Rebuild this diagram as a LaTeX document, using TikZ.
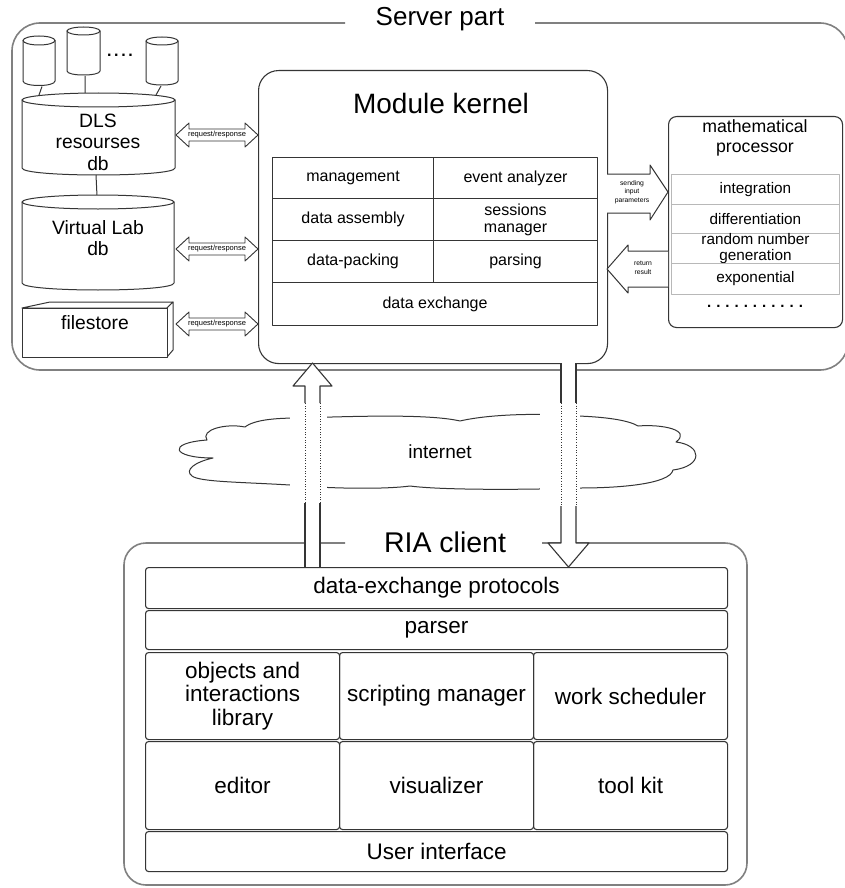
\documentclass[tikz,border=0pt]{standalone}
\usepackage{fontspec}
\setmainfont{Liberation Sans}
\definecolor{framec}{HTML}{808080}
\definecolor{inkc}{HTML}{353535}
\definecolor{lightc}{HTML}{B8B8B8}
\newcommand\fs[2]{\fontsize{#1}{#2}\selectfont}
\newcommand\drawcyl[5]{%
  \filldraw[fill=white, draw=inkc, line width=1pt] (#1,#3) -- (#1,#4) .. controls (#1,{#4+1.333*#5}) and (#2,{#4+1.333*#5}) .. (#2,#4) -- (#2,#3) -- cycle;
  \filldraw[fill=white, draw=inkc, line width=1pt] ({(#1+#2)/2},#3) ellipse [x radius={(#2-#1)/2}, y radius=#5];}
\newcommand\reqresp[2]{%
  \filldraw[fill=white, draw=inkc, line width=0.9pt] (176,#1) -- (189,{#1-12}) -- (189,{#1-6}) -- (245,{#1-6}) -- (245,{#1-12}) -- (258,#1) -- (245,{#1+12}) -- (245,{#1+6}) -- (189,{#1+6}) -- (189,{#1+12}) -- cycle;
  \node[inner sep=0, font=\fs{7.5}{8}] (#2) at (217,#1) {request/response};}
\begin{document}
\begin{tikzpicture}[x=1pt, y=-1pt, line join=round,
  frameline/.style={draw=framec, line width=1.6pt},
  inkline/.style={draw=inkc, line width=1.1pt},
  cell/.style={draw=inkc, line width=1.1pt, inner sep=0, anchor=north west, align=center, font=\fs{16}{17}},
  mrow/.style={draw=lightc, line width=0.9pt, inner sep=0, anchor=north west, align=center, font=\fs{15.3}{16}},
  crow/.style={draw=inkc, line width=1.1pt, rounded corners=3, inner sep=0, anchor=north west, align=center, font=\fs{22.5}{23.5}},
  dotline/.style={draw=inkc, line width=1pt, dash pattern=on 1pt off 1.6pt}]
\useasboundingbox (0,0) rectangle (844,888);
\fill[white] (0,0) rectangle (844,888);

% ---------------- Server part frame
\draw[frameline, rounded corners=28] (345,23) -- (12,23) -- (12,370) -- (848,370) -- (848,23) -- (535,23);
\node[font=\fs{26}{28}, inner sep=0] (srvtitle) at (440,19) {Server part};

% ---------------- small databases
\drawcyl{23}{55}{40.5}{81}{4.5}
\drawcyl{67}{100}{31}{71}{4}
\drawcyl{146}{178}{41}{81}{4}
\node[inner sep=0] (sdb1) at (39,60) {};
\node[inner sep=0] (sdb2) at (83.5,51) {};
\node[inner sep=0] (sdb3) at (162,61) {};
\node[font=\fs{16}{16}\bfseries, inner sep=0] (sdots) at (120,55) {.\,.\,.\,.};
\coordinate (c1b) at (42,86.5);
\coordinate (c2b) at (85,76);
\coordinate (c3b) at (161,86);
\coordinate (d1t) at (39,95);
\coordinate (d2t) at (85,93.5);
\coordinate (d3t) at (156,95);
\draw[inkc, line width=1pt] (c1b) -- (d1t) (c2b) -- (d2t) (c3b) -- (d3t);

% ---------------- DLS resources db
\drawcyl{22}{175}{100}{168}{7}
\node[font=\fs{19.3}{21.5}, align=center, inner sep=0] (dls) at (98,142) {DLS\\resourses\\db};
\coordinate (dlsb) at (96,175);
\coordinate (vlt) at (97,196);
\draw[inkc, line width=1pt] (dlsb) -- (vlt);

% ---------------- Virtual Lab db
\drawcyl{22}{174}{202}{283}{7}
\node[font=\fs{19.3}{21.5}, align=center, inner sep=0] (vl) at (98,238) {Virtual Lab\\db};

% ---------------- filestore
\filldraw[fill=white, draw=inkc, line width=1pt] (22,308) -- (50,302) -- (173,302) -- (167,308) -- cycle;
\filldraw[fill=white, draw=inkc, line width=1pt] (167,308) -- (173,302) -- (173,350) -- (167,357) -- cycle;
\node[draw=inkc, line width=1pt, fill=white, minimum width=145pt, minimum height=49pt, anchor=north west, inner sep=0] (fsbox) at (22,308) {};
\node[font=\fs{19.3}{21}, inner sep=0] (fs) at (95,323) {filestore};

% ---------------- request/response arrows
\reqresp{135}{rr1}
\reqresp{249}{rr2}
\reqresp{324}{rr3}

% ---------------- internet cloud
\filldraw[fill=white, draw=inkc, line width=1pt]
  (245,427) .. controls (255,419) and (280,418) .. (300,418)
  .. controls (360,416) and (430,414) .. (460,421)
  .. controls (490,414) and (540,413) .. (578,416)
  .. controls (605,417) and (628,420) .. (638,426)
  .. controls (662,424) and (692,430) .. (676,442)
  .. controls (702,445) and (704,466) .. (673,470)
  .. controls (670,484) and (620,488) .. (580,488)
  .. controls (520,490) and (440,490) .. (410,486)
  .. controls (380,490) and (320,488) .. (290,485)
  .. controls (240,482) and (200,482) .. (192,476)
  .. controls (184,470) and (195,462) .. (213,458)
  .. controls (172,458) and (166,443) .. (207,440)
  .. controls (200,430) and (225,423) .. (245,427) -- cycle;
\node[font=\fs{19}{20}, inner sep=0] (inet) at (440,452) {internet};
\fill[white] (290,408) rectangle (327,498);
\fill[white] (540,408) rectangle (580,498);

% ---------------- RIA client frame
\draw[frameline, rounded corners=22] (345,543) -- (124,543) -- (124,885) -- (747,885) -- (747,543) -- (542,543);
\node[font=\fs{28.5}{30}, inner sep=0] (riatitle) at (445,542) {RIA client};

% ---------------- Module kernel
\node[draw=inkc, line width=1.1pt, fill=white, rounded corners=20, minimum width=349pt, minimum height=293pt, anchor=north west, inner sep=0] (kernel) at (258,70) {};
\node[font=\fs{28}{30}, inner sep=0] (ktitle) at (441,103) {Module kernel};
\node[cell, minimum width=161pt, minimum height=41pt] (mgmt) at (272,157) {management};
\node[cell, minimum width=164pt, minimum height=41pt] (evan) at (433,157) {event analyzer};
\node[cell, minimum width=161pt, minimum height=42pt] (dasm) at (272,198) {data assembly};
\node[cell, minimum width=164pt, minimum height=42pt] (sess) at (433,198) {sessions\\manager};
\node[cell, minimum width=161pt, minimum height=42pt] (dpack) at (272,240) {data-packing};
\node[cell, minimum width=164pt, minimum height=42pt] (pars) at (433,240) {parsing};
\node[cell, minimum width=325pt, minimum height=43pt] (dex) at (272,282) {data exchange};

% ---------------- mathematical processor
\node[draw=inkc, line width=1.1pt, fill=white, rounded corners=8, minimum width=174pt, minimum height=211pt, anchor=north west, inner sep=0] (math) at (668,116) {};
\node[font=\fs{17.7}{20}, align=center, inner sep=0] (mtitle) at (755,138) {mathematical\\processor};
\node[mrow, minimum width=168pt, minimum height=30pt] (integ) at (671,174) {integration};
\node[mrow, minimum width=168pt, minimum height=29pt] (diff) at (671,204) {differentiation};
\node[mrow, minimum width=168pt, minimum height=30pt] (rng) at (671,233) {random number\\generation};
\node[mrow, minimum width=168pt, minimum height=31pt] (expo) at (671,263) {exponential};
\node[font=\fs{15}{15}\bfseries, inner sep=0] (mdots) at (755,306) {.\,\,.\,\,.\,\,.\,\,.\,\,.\,\,.\,\,.\,\,.\,\,.\,\,.};

% ---------------- sending / return arrows
\filldraw[fill=white, draw=inkc, line width=1pt] (607,174) -- (650,174) -- (650,165) -- (668,192) -- (650,220) -- (650,213) -- (607,213);
\node[font=\fs{6.8}{8.5}, align=center, inner sep=0] (sendtxt) at (632,192) {sending\\input\\parameters};
\filldraw[fill=white, draw=inkc, line width=1pt] (668,251) -- (628,251) -- (628,245) -- (607,269) -- (628,293) -- (628,287) -- (668,287);
\node[font=\fs{6.8}{8.5}, align=center, inner sep=0] (rettxt) at (643,268) {return\\result};

% ---------------- vertical arrows (up: client -> kernel)
\fill[white] (305,567) -- (305,386) -- (293,386) -- (312.5,363) -- (332,386) -- (320,386) -- (320,567) -- cycle;
\draw[inkc, line width=1.1pt] (305,567) -- (305,503) (320,567) -- (320,503);
\draw[dotline] (305,503) -- (305,403) (320,503) -- (320,403);
\draw[inkc, line width=1.1pt] (305,403) -- (305,386) -- (293,386) -- (312.5,363) -- (332,386) -- (320,386) -- (320,403);
% (down: kernel -> client)
\fill[white] (561,363) -- (561,543) -- (548,543) -- (568.5,567) -- (589,543) -- (576,543) -- (576,363) -- cycle;
\draw[inkc, line width=1.1pt] (561,363) -- (561,403) (576,363) -- (576,403);
\draw[dotline] (561,403) -- (561,506) (576,403) -- (576,506);
\draw[inkc, line width=1.1pt] (561,506) -- (561,543) -- (548,543) -- (568.5,567) -- (589,543) -- (576,543) -- (576,506);

% ---------------- RIA client rows
\node[crow, minimum width=582pt, minimum height=41pt] (dxp) at (145,567) {data-exchange protocols};
\node[crow, minimum width=582pt, minimum height=39pt] (parser) at (145,610) {parser};
\node[crow, minimum width=194pt, minimum height=87pt] (objlib) at (145,652) {objects and\\interactions\\library};
\node[crow, minimum width=194pt, minimum height=87pt] (script) at (339,652) {scripting manager};
\node[crow, minimum width=194pt, minimum height=87pt] (sched) at (533,652) {work scheduler};
\node[crow, minimum width=194pt, minimum height=88pt] (editor) at (145,741) {editor};
\node[crow, minimum width=194pt, minimum height=88pt] (visu) at (339,741) {visualizer};
\node[crow, minimum width=194pt, minimum height=88pt] (tool) at (533,741) {tool kit};
\node[crow, minimum width=582pt, minimum height=40pt] (ui) at (145,831) {User interface};
\end{tikzpicture}
\end{document}
